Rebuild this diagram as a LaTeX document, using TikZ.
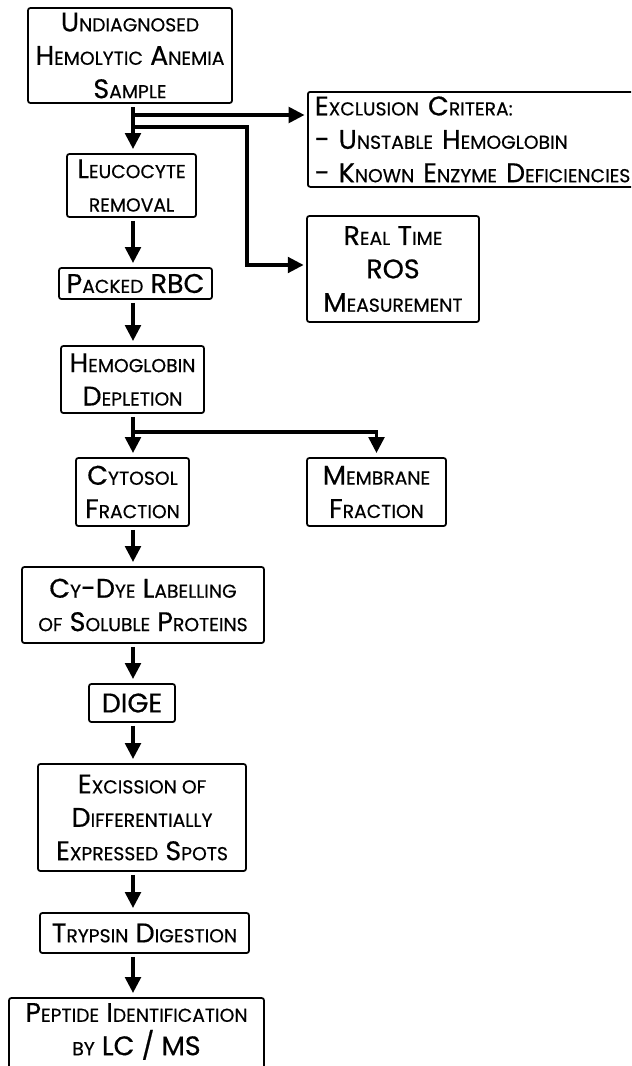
\documentclass[tikz,border=0pt]{standalone}
\usepackage{fontspec}
\setmainfont{Poppins}[FakeBold=0.5]
\usetikzlibrary{arrows.meta}
\newcommand\sm[1]{{\fontsize{16}{28.5}\selectfont #1}}
\begin{document}
\begin{tikzpicture}[x=0.03cm, y=-0.03cm,
  stage/.style={draw, line width=1.5pt, rounded corners=2pt, align=center,
    inner sep=0pt, font=\fontsize{23}{28.5}\selectfont},
  wh/.style 2 args={minimum width=#1*0.03cm, minimum height=#2*0.03cm},
  flow/.style={line width=3.4pt, -{Triangle[length=0.48cm,width=0.46cm]}}]
  \clip (0,0) rectangle (631,1066);

  % Hauptkette
  \node[stage, wh={204}{95}] (sample) at (130,55.5)
    {U\sm{NDIAGNOSED}\\H\sm{EMOLYTIC} A\sm{NEMIA}\\S\sm{AMPLE}};
  \node[stage, wh={129}{63}] (leuco) at (131.5,185.5)
    {L\sm{EUCOCYTE}\\\sm{REMOVAL}};
  \node[stage, wh={153}{31}] (packed) at (135.5,283.5) {P\sm{ACKED} RBC};
  \node[stage, wh={143}{67}] (hgb) at (132.5,379.5)
    {H\sm{EMOGLOBIN}\\D\sm{EPLETION}};
  \node[stage, wh={113}{68}] (cyto) at (132.5,492)
    {C\sm{YTOSOL}\\F\sm{RACTION}};
  \node[stage, wh={242}{76}] (cydye) at (143,605)
    {C\sm{Y}-D\sm{YE} L\sm{ABELLING}\\\sm{OF} S\sm{OLUBLE} P\sm{ROTEINS}};
  \node[stage, wh={86}{38}] (dige) at (132,703) {DIGE};
  \node[stage, wh={208}{107}] (excis) at (142,817.5)
    {E\sm{XCISSION OF}\\D\sm{IFFERENTIALLY}\\E\sm{XPRESSED} S\sm{POTS}};
  \node[stage, wh={209}{40}] (tryp) at (144.5,933)
    {T\sm{RYPSIN} D\sm{IGESTION}};
  \node[stage, wh={255}{74}] (pept) at (136.5,1035)
    {P\sm{EPTIDE} I\sm{DENTIFICATION}\\\sm{BY} LC / MS\rule[-10pt]{0pt}{10pt}};

  % Seitenzweige
  \node[stage, wh={334}{95}, anchor=north west, align=left,
    text width=9.6cm, inner xsep=0.21cm] (excl) at (307,91)
    {E\sm{XCLUSION} C\sm{RITERA:}\\- U\sm{NSTABLE} H\sm{EMOGLOBIN}\\
     - K\sm{NOWN} E\sm{NZYME} D\sm{EFICIENCIES}};
  \node[stage, wh={172}{106}] (ros) at (393,269)
    {R\sm{EAL} T\sm{IME}\\ROS\\M\sm{EASUREMENT}};
  \node[stage, wh={139}{68}] (memb) at (376.5,492)
    {M\sm{EMBRANE}\\F\sm{RACTION}};

  % Pfeile
  \coordinate (spine) at (133,0);
  \coordinate (split1) at (133,115);
  \coordinate (split2) at (133,127);
  \coordinate (bend) at (247,265);
  \coordinate (split3) at (133,432);

  \draw[flow, shorten <=3pt, shorten >=3.4pt]
    (sample.south -| spine) -- (leuco.north -| spine);
  \draw[flow, shorten >=2pt] (split1) -- (split1 -| excl.west);
  \draw[flow, shorten >=2pt] (split2) -| (bend) -- (bend -| ros.west);

  \foreach \a/\b in {leuco/packed, packed/hgb, hgb/cyto, cyto/cydye,
                     cydye/dige, dige/excis, excis/tryp, tryp/pept}
    \draw[flow, shorten <=2.5pt, shorten >=3.4pt]
      (\a.south -| spine) -- (\b.north -| spine);

  \draw[flow, shorten >=3.4pt] (split3) -| (memb.north);
\end{tikzpicture}
\end{document}
